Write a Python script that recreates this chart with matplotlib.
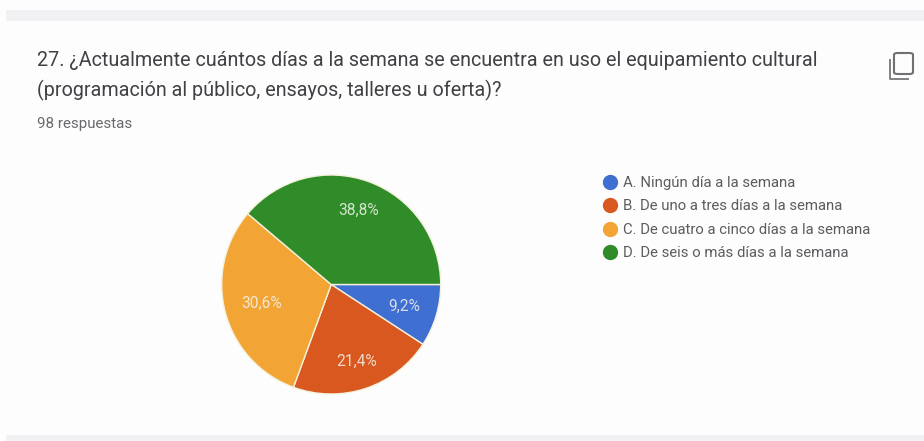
import numpy as np
import matplotlib.pyplot as plt
from matplotlib.lines import Line2D
from matplotlib.patches import Rectangle, FancyBboxPatch

plt.rcParams['font.family'] = ['Roboto', 'DejaVu Sans']

# Data
labels = ['A. Ningún día a la semana', 'B. De uno a tres días a la semana',
          'C. De cuatro a cinco días a la semana', 'D. De seis o más días a la semana']
values = [9.2, 21.4, 30.6, 38.8]
pct_text = ['9,2%', '21,4%', '30,6%', '38,8%']
colors = ['#3f6fd0', '#d9581f', '#f2a535', '#2f8c28']
title_lines = ['27. ¿Actualmente cuántos días a la semana se encuentra en uso el equipamiento cultural',
               '(programación al público, ensayos, talleres u oferta)?']
subtitle = '98 respuestas'

W, H = 924, 441
fig = plt.figure(figsize=(W / 100, H / 100), dpi=100, facecolor='#fdfdfd')

def fx(x):
    return x / W

def fy(y):
    return 1 - y / H

# grey bands of the page behind the card
fig.add_artist(Rectangle((fx(6), fy(21)), 1, 11 / H, transform=fig.transFigure, color='#f1f1f4', lw=0))
fig.add_artist(Rectangle((fx(6), 0), 1, 6 / H, transform=fig.transFigure, color='#f1f1f4', lw=0))

# title block
fig.text(fx(37), fy(61), title_lines[0], fontsize=14.2, color='#414145', va='center')
fig.text(fx(37), fy(90), title_lines[1], fontsize=14.2, color='#414145', va='center')
fig.text(fx(37), fy(124), subtitle, fontsize=10.9, color='#6a6a6e', va='center')

# copy icon
fig.add_artist(FancyBboxPatch((fx(894), fy(74)), 19 / W, 21 / H, boxstyle='round,pad=0,rounding_size=0.004',
                              transform=fig.transFigure, fill=False, ec='#707074', lw=1.5))
fig.add_artist(Line2D([fx(890), fx(890), fx(908)], [fy(60), fy(79), fy(79)],
                      transform=fig.transFigure, color='#808084', lw=1.4))

# pie
r = 109.5
ax = fig.add_axes([fx(331.2 - r), fy(284.5 + r), 2 * r / W, 2 * r / H])
wedges, _ = ax.pie(values, colors=colors, startangle=0, counterclock=False, radius=1,
                   wedgeprops={'edgecolor': '#f4f1dc', 'linewidth': 1.0})
ax.set_xlim(-1, 1)
ax.set_ylim(-1, 1)

# percent labels sit at different radii in the original
label_r = [0.70, 0.74, 0.66, 0.72]
start = 0
for v, txt, lr in zip(values, pct_text, label_r):
    mid = np.deg2rad(-(start + v / 2) * 3.6)
    ax.text(lr * np.cos(mid), lr * np.sin(mid), txt, ha='center', va='center',
            fontsize=11.2, color='#f3f3ee', alpha=0.85)
    start += v

# legend
handles = [Line2D([], [], ls='', marker='o', ms=10, color=c) for c in colors]
fig.legend(handles, labels, loc='upper left', bbox_to_anchor=(fx(595), fy(176)), frameon=False,
           fontsize=10.7, labelcolor='#5c5c60', labelspacing=0.63, handletextpad=-0.1,
           borderpad=0, borderaxespad=0)

plt.savefig('out.png', dpi=100, facecolor=fig.get_facecolor())
